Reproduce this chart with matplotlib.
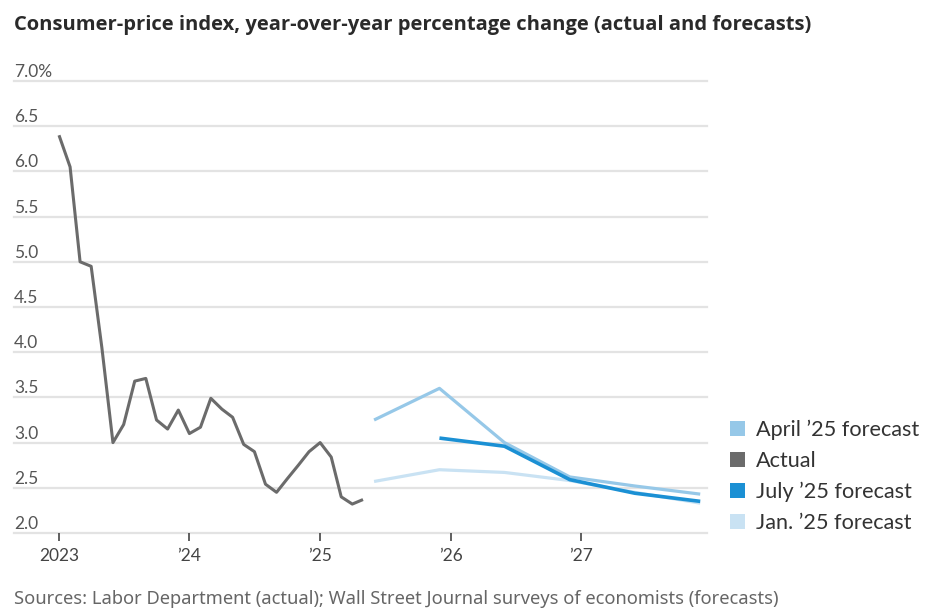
import matplotlib
matplotlib.use("Agg")
import matplotlib.pyplot as plt
import matplotlib.transforms as mtransforms
from matplotlib.patches import Patch
import pandas as pd


# monthly actual CPI, Jan 2023 .. May 2025
ACTUAL_START = "2023-01-01"
ACTUAL = [6.4, 6.05, 5.0, 4.95, 4.05, 3.0, 3.2, 3.68, 3.71, 3.25, 3.15, 3.36,
          3.1, 3.17, 3.49, 3.37, 3.28, 2.98, 2.9, 2.54, 2.45, 2.6, 2.75, 2.9,
          3.0, 2.84, 2.4, 2.32, 2.37]

# semi-annual forecasts (June / December)
APRIL_START = "2025-06-01"
APRIL = [3.25, 3.6, 3.0, 2.62, 2.52, 2.43]
JULY_START = "2025-12-01"
JULY = [3.05, 2.96, 2.59, 2.44, 2.35]
JAN_START = "2025-06-01"
JAN = [2.57, 2.70, 2.67, 2.58, 2.45, 2.33]

Y_TICKS = [2.0, 2.5, 3.0, 3.5, 4.0, 4.5, 5.0, 5.5, 6.0, 6.5, 7.0]
X_TICKS = ["2023-01-01", "2024-01-01", "2025-01-01", "2026-01-01", "2027-01-01"]
X_LABELS = ["2023", "\u201924", "\u201925", "\u201926", "\u201927"]

COLORS = {
    "April \u201925 forecast": "#96c8e8",
    "Actual": "#6b6b6b",
    "July \u201925 forecast": "#1b90d4",
    "Jan. \u201925 forecast": "#c9e2f3",
}

W, H = 933, 615


def monthly(start, n):
    return pd.date_range(start, periods=n, freq="MS")


def semiannual(start, n):
    return pd.date_range(start, periods=n, freq="6MS")


def main():
    plt.rcParams["font.family"] = ["Lato", "DejaVu Sans"]
    fig = plt.figure(figsize=(W / 100, H / 100), dpi=100)
    ax = fig.add_axes([14 / W, (H - 533) / H, (707 - 14) / W, (533 - 81) / H])

    for s in ax.spines.values():
        s.set_visible(False)

    for y in Y_TICKS:
        ax.axhline(y, color="#e3e3e3", linewidth=1.6, zorder=0, clip_on=False)

    labels = list(COLORS)
    ax.plot(semiannual(JAN_START, len(JAN)), JAN, color=COLORS[labels[3]],
            linewidth=2.3, zorder=1, solid_capstyle="butt")
    ax.plot(semiannual(APRIL_START, len(APRIL)), APRIL, color=COLORS[labels[0]],
            linewidth=2.3, zorder=2, solid_capstyle="butt")
    ax.plot(semiannual(JULY_START, len(JULY)), JULY, color=COLORS[labels[2]],
            linewidth=2.6, zorder=3, solid_capstyle="butt")
    ax.plot(monthly(ACTUAL_START, len(ACTUAL)), ACTUAL, color=COLORS[labels[1]],
            linewidth=2.2, zorder=3, solid_capstyle="butt")

    ax.set_ylim(2.0, 7.0)
    ax.set_xlim(pd.Timestamp("2022-08-28"), pd.Timestamp("2027-12-20"))

    ax.set_yticks([])
    off = mtransforms.offset_copy(ax.get_yaxis_transform(), fig=fig, x=0, y=1, units="dots")
    for y in Y_TICKS:
        lab = f"{y:.1f}%" if y == Y_TICKS[-1] else f"{y:.1f}"
        ax.text(0, y, lab, transform=off, ha="left", va="bottom",
                fontsize=12.5, color="#555555")

    ax.set_xticks(pd.to_datetime(X_TICKS))
    ax.set_xticklabels(X_LABELS)
    ax.tick_params(axis="x", length=6, width=1.2, color="#444444", pad=5,
                   labelsize=12.5, labelcolor="#444444")

    handles = [Patch(facecolor=COLORS[k], edgecolor="none", label=k) for k in labels]
    fig.legend(handles=handles, loc="upper left", bbox_to_anchor=(730 / W, 1 - 420 / H),
               frameon=False, fontsize=15.6, handlelength=0.7, handleheight=0.7,
               handletextpad=0.5, labelspacing=0.5, labelcolor="#333333",
               borderaxespad=0, borderpad=0)

    fig.text(14 / W, 1 - 25 / H, "Consumer-price index, year-over-year percentage change (actual and forecasts)",
             fontsize=14.5, fontweight="bold", color="#2a2a2a", ha="left", va="center",
             family=["Open Sans", "DejaVu Sans"])
    fig.text(14 / W, 1 - 599 / H,
             "Sources: Labor Department (actual); Wall Street Journal surveys of economists (forecasts)",
             fontsize=13.2, color="#666666", ha="left", va="center",
             family=["Noto Sans", "DejaVu Sans"])

    fig.savefig("out.png", dpi=100)


if __name__ == "__main__":
    main()
